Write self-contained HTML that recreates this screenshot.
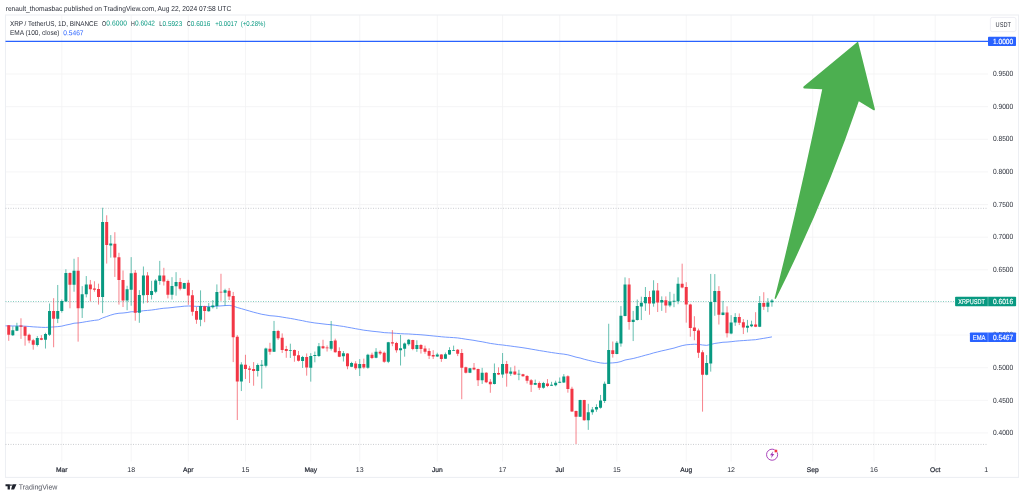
<!DOCTYPE html>
<html><head><meta charset="utf-8"><title>XRP / TetherUS chart</title>
<style>html,body{margin:0;padding:0;background:#fff;width:1024px;height:497px;overflow:hidden}</style></head>
<body>
<svg width="1024" height="497" viewBox="0 0 1024 497" style="position:absolute;left:0;top:0;display:block">
<rect x="0" y="0" width="1024" height="497" fill="#fff"/>
<path d="M61.80 15.0V461.5M131.18 15.0V461.5M188.32 15.0V461.5M245.46 15.0V461.5M310.76 15.0V461.5M359.73 15.0V461.5M437.28 15.0V461.5M502.58 15.0V461.5M559.72 15.0V461.5M616.85 15.0V461.5M686.24 15.0V461.5M731.13 15.0V461.5M812.76 15.0V461.5M873.98 15.0V461.5M935.20 15.0V461.5M5.5 432.96H988.0M5.5 400.33H988.0M5.5 367.70H988.0M5.5 335.07H988.0M5.5 302.44H988.0M5.5 269.81H988.0M5.5 237.18H988.0M5.5 204.55H988.0M5.5 171.92H988.0M5.5 139.29H988.0M5.5 106.66H988.0M5.5 74.03H988.0" stroke="#f2f3f4" stroke-width="0.8" fill="none"/>
<rect x="5.5" y="15.0" width="1013.0" height="462.4" fill="none" stroke="#edeff3" stroke-width="1.1"/>
<path d="M5.5 208.3H988.0M5.5 444.4H988.0" stroke="#9598a1" stroke-width="0.5" stroke-dasharray="1 1.5" fill="none"/>
<path d="M5.5 301.5H955" stroke="#089981" stroke-width="0.55" stroke-dasharray="1 1.5" fill="none" opacity="0.9"/>
<path d="M5.5 41.4H988.0" stroke="#2962ff" stroke-width="1.1" fill="none"/>
<path d="M5.5 325.85L8.74 325.90L12.82 325.99L16.90 326.00L20.98 326.01L25.07 326.20L29.15 326.48L33.23 326.85L37.31 327.07L41.39 327.32L45.47 327.45L49.55 327.13L53.63 326.96L57.72 326.65L61.80 326.14L65.88 325.09L69.96 324.29L74.04 323.23L78.12 322.94L82.20 322.37L86.28 321.62L90.37 320.98L94.45 320.36L98.53 319.89L102.61 317.96L106.69 316.51L110.77 315.07L114.85 313.93L118.94 313.26L123.02 313.00L127.10 312.54L131.18 311.76L135.26 311.78L139.34 311.44L143.42 310.73L147.50 310.42L151.59 310.03L155.67 309.45L159.75 308.78L163.83 308.24L167.91 307.97L171.99 307.54L176.07 307.03L180.15 306.67L184.24 306.20L188.32 305.99L192.40 306.11L196.48 306.38L200.56 306.37L204.64 306.46L208.72 306.47L212.81 306.45L216.89 306.16L220.97 305.89L225.05 305.58L229.13 305.40L233.21 306.03L237.29 307.52L241.37 308.65L245.46 309.85L249.54 311.04L253.62 312.22L257.70 313.26L261.78 314.28L265.86 314.96L269.94 315.69L274.02 315.99L278.11 316.43L282.19 317.10L286.27 317.77L290.35 318.41L294.43 319.15L298.51 319.97L302.59 320.70L306.67 321.63L310.76 322.31L314.84 322.96L318.92 323.42L323.00 323.91L327.08 324.40L331.16 324.72L335.24 325.27L339.33 325.89L343.41 326.43L347.49 327.22L351.57 327.93L355.65 328.73L359.73 329.43L363.81 330.18L367.89 330.67L371.98 331.21L376.06 331.62L380.14 332.05L384.22 332.64L388.30 332.83L392.38 333.04L396.46 333.38L400.54 333.67L404.63 333.87L408.71 333.98L412.79 334.28L416.87 334.50L420.95 334.78L425.03 335.12L429.11 335.53L433.20 335.95L437.28 336.32L441.36 336.77L445.44 337.11L449.52 337.37L453.60 337.62L457.68 337.94L461.76 338.53L465.85 339.20L469.93 339.78L474.01 340.37L478.09 341.15L482.17 341.78L486.25 342.58L490.33 343.41L494.41 343.99L498.50 344.60L502.58 344.98L506.66 345.55L510.74 346.06L514.82 346.63L518.90 347.17L522.98 347.74L527.07 348.39L531.15 349.11L535.23 349.79L539.31 350.54L543.39 351.18L547.47 351.87L551.55 352.52L555.63 353.12L559.72 353.69L563.80 354.14L567.88 354.83L571.96 355.95L576.04 357.15L580.12 358.00L584.20 359.23L588.28 360.28L592.37 361.26L596.45 362.16L600.53 362.92L604.61 363.33L608.69 363.07L612.77 362.89L616.85 362.49L620.93 361.56L625.02 360.03L629.10 359.28L633.18 358.50L637.26 357.46L641.34 356.38L645.42 355.20L649.50 354.18L653.59 352.92L657.67 351.92L661.75 350.89L665.83 349.99L669.91 349.03L673.99 348.08L678.07 346.80L682.15 345.63L686.24 344.82L690.32 344.48L694.40 344.22L698.48 344.39L702.56 344.99L706.64 345.35L710.72 344.49L714.80 343.43L718.89 342.86L722.97 342.26L727.05 342.08L731.13 341.69L735.21 341.20L739.29 340.83L743.37 340.57L747.46 340.28L751.54 339.96L755.62 339.70L759.70 338.97L763.78 338.33L767.86 337.62L771.94 336.89" stroke="#5b86ff" stroke-width="0.85" fill="none" stroke-linejoin="round"/>
<path d="M12.82 326.34V336.00M16.90 322.80V331.17M37.31 336.00V346.46M45.47 332.78V348.55M49.55 303.48V336.00M57.72 284.97V323.12M61.80 299.46V312.66M65.88 269.22V301.71M74.04 258.75V291.73M82.20 286.10V317.97M86.28 276.05V297.36M102.61 207.73V313.14M110.77 235.09V257.63M127.10 285.77V310.24M131.18 257.14V305.73M139.34 290.12V322.80M143.42 266.51V303.52M151.59 280.82V299.50M155.67 278.97V293.22M159.75 260.88V284.73M171.99 277.16V299.54M176.07 272.17V295.67M184.24 282.80V289.07M200.56 290.36V326.22M208.72 303.06V311.73M212.81 300.00V308.51M216.89 284.41V309.09M225.05 288.75V305.71M241.37 362.25V391.05M257.70 363.46V376.56M261.78 360.00V388.63M265.86 347.63V367.48M274.02 320.91V351.97M290.35 343.70V357.95M302.59 355.88V367.95M310.76 353.14V381.63M314.84 351.53V362.31M318.92 343.00V357.00M331.16 320.95V350.56M343.41 351.05V361.51M351.57 361.83V367.14M359.73 359.09V376.00M367.89 353.78V368.75M376.06 348.15V358.29M388.30 341.87V363.12M400.54 334.95V365.53M404.63 342.52V356.68M408.71 338.97V345.73M416.87 340.26V351.85M437.28 352.76V356.94M445.44 352.54V358.97M449.52 347.22V354.95M453.60 345.61V350.93M469.93 367.83V373.14M482.17 367.83V383.92M494.41 363.48V384.41M502.58 353.02V377.81M510.74 367.34V375.88M518.90 369.76V380.22M535.23 379.58V385.05M543.39 381.83V388.75M551.55 381.83V386.02M555.63 380.70V386.34M559.72 377.48V383.12M563.80 374.14V383.00M580.12 399.78V417.00M588.28 403.80V429.88M592.37 407.02V414.75M596.45 404.29V411.85M600.53 394.95V408.63M604.61 381.59V403.00M608.69 323.77V384.00M616.85 341.05V354.25M620.93 306.07V346.68M625.02 277.36V316.32M633.18 310.90V341.05M637.26 299.55V320.55M641.34 296.68V320.07M645.42 287.02V310.90M653.59 280.26V306.71M661.75 296.36V310.90M669.91 291.85V307.19M673.99 293.78V307.19M678.07 277.36V304.22M706.64 355.05V375.33M710.72 273.92V371.63M714.80 274.08V315.77M722.97 300.89V315.35M731.13 315.18V334.26M735.21 313.15V325.86M747.46 319.90V332.45M751.54 320.70V327.14M759.70 296.08V327.14M767.86 298.17V312.17M771.94 298.97V306.70" stroke="#089981" stroke-width="0.62" fill="none"/>
<path d="M8.74 325.21V340.82M20.98 318.29V338.89M25.07 326.02V345.65M29.15 333.58V343.24M33.23 338.89V349.68M41.39 335.19V340.18M53.63 298.17V347.26M69.96 272.43V308.31M78.12 257.14V341.63M90.37 279.98V301.39M94.45 281.27V291.73M98.53 283.68V304.61M106.69 215.29V263.58M114.85 232.19V276.94M118.94 252.80V304.61M123.02 270.50V307.02M135.26 270.02V320.70M147.50 272.14V302.72M163.83 267.83V285.53M167.91 279.58V298.41M180.15 277.97V290.36M188.32 279.90V304.85M192.40 290.04V315.75M196.48 306.90V323.80M204.64 305.77V322.19M220.97 273.78V300.89M229.13 287.95V300.00M233.21 291.95V362.11M237.29 335.07V420.02M245.46 354.77V378.97M249.54 365.88V383.00M253.62 362.09V385.73M269.94 342.80V354.71M278.11 329.92V339.90M282.19 333.40V352.96M286.27 345.88V357.79M294.43 349.50V361.73M298.51 350.95V361.51M306.67 353.46V375.67M323.00 339.78V348.95M327.08 345.41V351.53M335.24 338.65V352.66M339.33 347.34V357.16M347.49 353.14V369.24M355.65 361.19V369.88M363.81 358.61V368.75M371.98 352.66V359.09M380.14 350.24V355.07M384.22 351.53V362.80M392.38 330.12V346.22M396.46 341.87V352.66M412.79 339.78V350.24M420.95 344.12V353.56M425.03 345.67V353.80M429.11 348.25V359.03M433.20 350.18V359.03M441.36 354.14V361.87M457.68 348.99V356.08M461.76 348.99V399.22M465.85 366.70V373.46M474.01 363.00V370.24M478.09 368.63V386.02M486.25 372.17V383.12M490.33 379.09V392.78M498.50 367.34V375.07M506.66 360.91V386.66M514.82 365.73V375.07M522.98 373.78V376.68M527.07 375.07V383.44M531.15 379.09V391.97M539.31 381.51V389.88M547.47 379.09V387.14M567.88 375.27V392.66M571.96 386.78V411.85M576.04 410.56V444.04M584.20 399.78V420.70M612.77 341.53V357.63M629.10 278.17V329.73M649.50 291.05V314.76M657.67 283.00V312.02M665.83 296.36V312.83M682.15 263.68V288.31M686.24 282.19V322.65M690.32 303.73V336.70M694.40 316.21V340.24M698.48 328.60V357.95M702.56 350.22V411.65M718.89 286.16V324.52M727.05 306.33V337.47M739.29 313.46V325.05M743.37 319.09V334.06M755.62 312.17V327.14M763.78 292.21V309.92" stroke="#f23645" stroke-width="0.62" fill="none"/>
<path d="M11.32 330.36h3v4.83h-3zM15.40 326.34h3v4.51h-3zM35.81 337.93h3v7.08h-3zM43.97 334.06h3v5.79h-3zM48.05 311.05h3v23.66h-3zM56.22 311.05h3v7.73h-3zM60.30 301.07h3v9.98h-3zM64.38 273.07h3v28.32h-3zM72.54 270.81h3v13.99h-3zM80.70 294.14h3v14.16h-3zM84.78 284.49h3v9.66h-3zM101.11 222.05h3v74.83h-3zM109.27 243.46h3v1.93h-3zM125.60 289.32h3v11.27h-3zM129.68 273.24h3v16.56h-3zM137.84 294.95h3v17.71h-3zM141.92 275.51h3v19.73h-3zM150.09 291.05h3v3.86h-3zM154.17 280.58h3v11.11h-3zM158.25 275.44h3v5.58h-3zM170.49 286.02h3v8.85h-3zM174.57 281.99h3v4.35h-3zM182.74 283.12h3v5.63h-3zM199.06 306.04h3v13.74h-3zM207.22 306.92h3v4.33h-3zM211.31 305.47h3v1.77h-3zM215.39 291.95h3v14.08h-3zM223.55 290.36h3v2.47h-3zM239.87 364.59h3v16.80h-3zM256.20 364.91h3v6.02h-3zM260.28 364.75h3v1.03h-3zM264.36 348.43h3v17.28h-3zM272.52 331.05h3v20.60h-3zM288.85 349.98h3v0.80h-3zM301.09 357.00h3v4.02h-3zM309.26 355.88h3v11.75h-3zM313.34 355.07h3v0.97h-3zM317.42 346.22h3v9.66h-3zM329.66 340.91h3v7.73h-3zM341.91 353.14h3v3.22h-3zM350.07 363.12h3v3.54h-3zM358.23 363.92h3v4.35h-3zM366.39 354.75h3v12.88h-3zM374.56 351.85h3v5.96h-3zM386.80 342.19h3v19.64h-3zM399.04 348.15h3v2.09h-3zM403.13 343.48h3v5.15h-3zM407.21 339.78h3v4.35h-3zM415.37 345.09h3v4.02h-3zM435.78 354.53h3v2.09h-3zM443.94 354.14h3v4.51h-3zM448.02 350.12h3v4.35h-3zM452.10 350.12h3v0.60h-3zM468.43 368.15h3v4.51h-3zM480.67 372.66h3v7.57h-3zM492.91 372.98h3v10.95h-3zM501.08 364.12h3v10.46h-3zM509.24 371.53h3v2.25h-3zM517.40 373.78h3v0.80h-3zM533.73 383.12h3v1.61h-3zM541.89 383.12h3v4.51h-3zM550.05 384.73h3v0.97h-3zM554.13 382.80h3v2.41h-3zM558.22 381.83h3v0.97h-3zM562.30 376.40h3v6.04h-3zM578.62 400.10h3v16.58h-3zM586.78 412.17h3v8.05h-3zM590.87 409.44h3v2.74h-3zM594.95 407.02h3v2.41h-3zM599.03 400.58h3v7.24h-3zM603.11 383.68h3v17.22h-3zM607.19 349.90h3v34.10h-3zM615.35 342.66h3v11.27h-3zM619.43 315.64h3v27.82h-3zM623.52 284.61h3v31.44h-3zM631.68 319.67h3v2.33h-3zM635.76 306.07h3v14.00h-3zM639.84 302.85h3v3.70h-3zM643.92 297.00h3v6.17h-3zM652.09 290.56h3v13.01h-3zM660.25 299.90h3v2.63h-3zM668.41 301.40h3v4.19h-3zM672.49 300.70h3v1.02h-3zM676.57 283.80h3v17.43h-3zM705.14 363.10h3v11.75h-3zM709.22 301.88h3v61.70h-3zM713.30 290.99h3v10.89h-3zM721.47 312.45h3v2.47h-3zM729.63 322.43h3v11.10h-3zM733.71 316.90h3v5.63h-3zM745.96 325.86h3v1.77h-3zM750.04 324.41h3v1.93h-3zM758.20 303.00h3v23.66h-3zM766.36 302.52h3v4.19h-3zM770.44 300.58h3v1.61h-3z" fill="#089981"/>
<path d="M7.24 325.21h3v9.66h-3zM19.48 325.53h3v1.13h-3zM23.57 326.66h3v9.01h-3zM27.65 334.87h3v5.63h-3zM31.73 340.18h3v4.67h-3zM39.89 338.25h3v1.61h-3zM52.13 311.05h3v7.73h-3zM68.46 273.07h3v11.74h-3zM76.62 270.81h3v37.49h-3zM88.87 284.49h3v4.83h-3zM92.95 288.51h3v1.13h-3zM97.03 288.99h3v7.89h-3zM105.19 222.05h3v23.02h-3zM113.35 243.78h3v13.84h-3zM117.44 257.14h3v22.84h-3zM121.52 279.98h3v20.60h-3zM133.76 272.83h3v39.83h-3zM146.00 275.51h3v19.40h-3zM162.33 275.55h3v5.96h-3zM166.41 281.03h3v13.84h-3zM178.65 281.99h3v6.76h-3zM186.82 282.80h3v12.72h-3zM190.90 295.19h3v16.54h-3zM194.98 310.93h3v8.85h-3zM203.14 306.28h3v4.65h-3zM219.47 291.65h3v0.80h-3zM227.63 290.85h3v5.61h-3zM231.71 295.90h3v41.27h-3zM235.79 336.68h3v44.71h-3zM243.96 364.83h3v4.16h-3zM248.04 368.53h3v1.27h-3zM252.12 368.93h3v1.99h-3zM268.44 348.75h3v2.90h-3zM276.61 331.05h3v7.24h-3zM280.69 337.83h3v12.07h-3zM284.77 348.93h3v2.17h-3zM292.93 349.98h3v5.79h-3zM297.01 355.13h3v5.63h-3zM305.17 357.00h3v10.62h-3zM321.50 346.22h3v2.09h-3zM325.58 347.51h3v0.80h-3zM333.74 340.58h3v11.59h-3zM337.83 351.05h3v5.63h-3zM345.99 353.46h3v12.88h-3zM354.15 363.44h3v4.83h-3zM362.31 363.92h3v3.70h-3zM370.48 354.75h3v3.22h-3zM378.64 351.85h3v1.61h-3zM382.72 352.66h3v9.18h-3zM390.88 342.19h3v1.29h-3zM394.96 343.00h3v7.24h-3zM411.29 340.10h3v9.01h-3zM419.45 345.03h3v3.94h-3zM423.53 348.57h3v3.22h-3zM427.61 350.99h3v4.83h-3zM431.70 355.01h3v1.61h-3zM439.86 354.47h3v4.51h-3zM456.18 349.80h3v3.86h-3zM460.26 353.02h3v14.81h-3zM464.35 367.34h3v5.31h-3zM472.51 367.83h3v1.61h-3zM476.59 369.11h3v11.11h-3zM484.75 372.66h3v9.66h-3zM488.83 381.83h3v2.41h-3zM497.00 372.98h3v1.61h-3zM505.16 364.12h3v9.34h-3zM513.32 371.53h3v3.06h-3zM521.48 374.27h3v1.93h-3zM525.57 375.88h3v4.83h-3zM529.65 380.22h3v4.51h-3zM537.81 383.12h3v4.51h-3zM545.97 383.44h3v2.58h-3zM566.38 376.24h3v12.64h-3zM570.46 388.63h3v22.90h-3zM574.54 411.05h3v5.63h-3zM582.70 400.10h3v20.12h-3zM611.27 350.22h3v3.70h-3zM627.60 284.61h3v37.39h-3zM648.00 297.00h3v6.57h-3zM656.17 290.56h3v11.96h-3zM664.33 300.22h3v5.36h-3zM680.65 283.80h3v3.70h-3zM684.74 287.02h3v17.60h-3zM688.82 304.62h3v23.26h-3zM692.90 327.47h3v3.59h-3zM696.98 330.58h3v22.21h-3zM701.06 352.31h3v22.54h-3zM717.39 290.99h3v23.77h-3zM725.55 312.45h3v20.68h-3zM737.79 317.00h3v5.63h-3zM741.87 322.31h3v5.31h-3zM754.12 324.41h3v2.25h-3zM762.28 303.00h3v3.70h-3z" fill="#f23645"/>
<path d="M858.0 41.6 L803.6 86.6 Q802.6 88.4 804.6 88.6 L822.2 89.3 Q799.5 200 774.6 298.2 Q774.9 299.4 776 298.6 Q826 198 858.8 101.2 L873.2 110.0 Q875.2 110.8 874.8 108.8 Z" fill="#4caf50"/>
<text transform="rotate(0.03 993 435.16)" x="993" y="435.16" font-family="Liberation Sans, Arial, sans-serif" font-size="7.4" fill="#2a2e39" textLength="20.2" lengthAdjust="spacingAndGlyphs">0.4000</text>
<text transform="rotate(0.03 993 402.53)" x="993" y="402.53" font-family="Liberation Sans, Arial, sans-serif" font-size="7.4" fill="#2a2e39" textLength="20.2" lengthAdjust="spacingAndGlyphs">0.4500</text>
<text transform="rotate(0.03 993 369.90)" x="993" y="369.90" font-family="Liberation Sans, Arial, sans-serif" font-size="7.4" fill="#2a2e39" textLength="20.2" lengthAdjust="spacingAndGlyphs">0.5000</text>
<text transform="rotate(0.03 993 337.27)" x="993" y="337.27" font-family="Liberation Sans, Arial, sans-serif" font-size="7.4" fill="#2a2e39" textLength="20.2" lengthAdjust="spacingAndGlyphs">0.5500</text>
<text transform="rotate(0.03 993 304.64)" x="993" y="304.64" font-family="Liberation Sans, Arial, sans-serif" font-size="7.4" fill="#2a2e39" textLength="20.2" lengthAdjust="spacingAndGlyphs">0.6000</text>
<text transform="rotate(0.03 993 272.01)" x="993" y="272.01" font-family="Liberation Sans, Arial, sans-serif" font-size="7.4" fill="#2a2e39" textLength="20.2" lengthAdjust="spacingAndGlyphs">0.6500</text>
<text transform="rotate(0.03 993 239.38)" x="993" y="239.38" font-family="Liberation Sans, Arial, sans-serif" font-size="7.4" fill="#2a2e39" textLength="20.2" lengthAdjust="spacingAndGlyphs">0.7000</text>
<text transform="rotate(0.03 993 206.75)" x="993" y="206.75" font-family="Liberation Sans, Arial, sans-serif" font-size="7.4" fill="#2a2e39" textLength="20.2" lengthAdjust="spacingAndGlyphs">0.7500</text>
<text transform="rotate(0.03 993 174.12)" x="993" y="174.12" font-family="Liberation Sans, Arial, sans-serif" font-size="7.4" fill="#2a2e39" textLength="20.2" lengthAdjust="spacingAndGlyphs">0.8000</text>
<text transform="rotate(0.03 993 141.49)" x="993" y="141.49" font-family="Liberation Sans, Arial, sans-serif" font-size="7.4" fill="#2a2e39" textLength="20.2" lengthAdjust="spacingAndGlyphs">0.8500</text>
<text transform="rotate(0.03 993 108.86)" x="993" y="108.86" font-family="Liberation Sans, Arial, sans-serif" font-size="7.4" fill="#2a2e39" textLength="20.2" lengthAdjust="spacingAndGlyphs">0.9000</text>
<text transform="rotate(0.03 993 76.23)" x="993" y="76.23" font-family="Liberation Sans, Arial, sans-serif" font-size="7.4" fill="#2a2e39" textLength="20.2" lengthAdjust="spacingAndGlyphs">0.9500</text>
<text transform="rotate(0.03 61.80 471.95)" x="61.80" y="471.95" font-family="Liberation Sans, Arial, sans-serif" font-size="6.7" stroke="#2a2e39" stroke-width="0.22" fill="#2a2e39" text-anchor="middle">Mar</text>
<text transform="rotate(0.03 131.18 471.95)" x="131.18" y="471.95" font-family="Liberation Sans, Arial, sans-serif" font-size="7" fill="#2a2e39" text-anchor="middle">18</text>
<text transform="rotate(0.03 188.32 471.95)" x="188.32" y="471.95" font-family="Liberation Sans, Arial, sans-serif" font-size="6.7" stroke="#2a2e39" stroke-width="0.22" fill="#2a2e39" text-anchor="middle">Apr</text>
<text transform="rotate(0.03 245.46 471.95)" x="245.46" y="471.95" font-family="Liberation Sans, Arial, sans-serif" font-size="7" fill="#2a2e39" text-anchor="middle">15</text>
<text transform="rotate(0.03 310.76 471.95)" x="310.76" y="471.95" font-family="Liberation Sans, Arial, sans-serif" font-size="6.7" stroke="#2a2e39" stroke-width="0.22" fill="#2a2e39" text-anchor="middle">May</text>
<text transform="rotate(0.03 359.73 471.95)" x="359.73" y="471.95" font-family="Liberation Sans, Arial, sans-serif" font-size="7" fill="#2a2e39" text-anchor="middle">13</text>
<text transform="rotate(0.03 437.28 471.95)" x="437.28" y="471.95" font-family="Liberation Sans, Arial, sans-serif" font-size="6.7" stroke="#2a2e39" stroke-width="0.22" fill="#2a2e39" text-anchor="middle">Jun</text>
<text transform="rotate(0.03 502.58 471.95)" x="502.58" y="471.95" font-family="Liberation Sans, Arial, sans-serif" font-size="7" fill="#2a2e39" text-anchor="middle">17</text>
<text transform="rotate(0.03 559.72 471.95)" x="559.72" y="471.95" font-family="Liberation Sans, Arial, sans-serif" font-size="6.7" stroke="#2a2e39" stroke-width="0.22" fill="#2a2e39" text-anchor="middle">Jul</text>
<text transform="rotate(0.03 616.85 471.95)" x="616.85" y="471.95" font-family="Liberation Sans, Arial, sans-serif" font-size="7" fill="#2a2e39" text-anchor="middle">15</text>
<text transform="rotate(0.03 686.24 471.95)" x="686.24" y="471.95" font-family="Liberation Sans, Arial, sans-serif" font-size="6.7" stroke="#2a2e39" stroke-width="0.22" fill="#2a2e39" text-anchor="middle">Aug</text>
<text transform="rotate(0.03 731.13 471.95)" x="731.13" y="471.95" font-family="Liberation Sans, Arial, sans-serif" font-size="7" fill="#2a2e39" text-anchor="middle">12</text>
<text transform="rotate(0.03 812.76 471.95)" x="812.76" y="471.95" font-family="Liberation Sans, Arial, sans-serif" font-size="6.7" stroke="#2a2e39" stroke-width="0.22" fill="#2a2e39" text-anchor="middle">Sep</text>
<text transform="rotate(0.03 873.98 471.95)" x="873.98" y="471.95" font-family="Liberation Sans, Arial, sans-serif" font-size="7" fill="#2a2e39" text-anchor="middle">16</text>
<text transform="rotate(0.03 935.20 471.95)" x="935.20" y="471.95" font-family="Liberation Sans, Arial, sans-serif" font-size="6.7" stroke="#2a2e39" stroke-width="0.22" fill="#2a2e39" text-anchor="middle">Oct</text>
<clipPath id="cp"><rect x="0" y="460" width="988" height="17"/></clipPath>
<text transform="rotate(0.03 988.25 471.95)" x="988.25" y="471.95" font-family="Liberation Sans, Arial, sans-serif" font-size="7" fill="#2a2e39" text-anchor="middle" clip-path="url(#cp)">14</text>
<rect x="990.4" y="17.4" width="25.6" height="14.2" rx="2" fill="#fff" stroke="#e6e8ef" stroke-width="0.7"/>
<text transform="rotate(0.03 995.6 27.1)" x="995.6" y="27.1" font-family="Liberation Sans, Arial, sans-serif" font-size="7" fill="#2a2e39" textLength="15.3" lengthAdjust="spacingAndGlyphs">USDT</text>
<rect x="988" y="36.8" width="28" height="9.2" rx="0.8" fill="#2962ff"/>
<text transform="rotate(0.03 993 43.9)" x="993" y="43.9" font-family="Liberation Sans, Arial, sans-serif" font-size="7.4" fill="#fff" stroke="#fff" stroke-width="0.15" textLength="20.2" lengthAdjust="spacingAndGlyphs">1.0000</text>
<rect x="955.1" y="296.7" width="61" height="9.5" rx="0.8" fill="#089981"/>
<path d="M988 296.7V306.2" stroke="#fff" stroke-width="0.5" opacity="0.6"/>
<text transform="rotate(0.03 958.3 303.9)" x="958.3" y="303.9" font-family="Liberation Sans, Arial, sans-serif" font-size="7" fill="#fff" stroke="#fff" stroke-width="0.15" textLength="26.6" lengthAdjust="spacingAndGlyphs">XRPUSDT</text>
<text transform="rotate(0.03 993 303.9)" x="993" y="303.9" font-family="Liberation Sans, Arial, sans-serif" font-size="7.4" fill="#fff" stroke="#fff" stroke-width="0.15" textLength="20.2" lengthAdjust="spacingAndGlyphs">0.6016</text>
<rect x="969.9" y="332.4" width="46.2" height="9.6" rx="0.8" fill="#2962ff"/>
<path d="M988 332.4V342" stroke="#fff" stroke-width="0.5" opacity="0.6"/>
<text transform="rotate(0.03 972.8 339.7)" x="972.8" y="339.7" font-family="Liberation Sans, Arial, sans-serif" font-size="7" fill="#fff" stroke="#fff" stroke-width="0.15" textLength="12.6" lengthAdjust="spacingAndGlyphs">EMA</text>
<text transform="rotate(0.03 993 339.7)" x="993" y="339.7" font-family="Liberation Sans, Arial, sans-serif" font-size="7.4" fill="#fff" stroke="#fff" stroke-width="0.15" textLength="20.2" lengthAdjust="spacingAndGlyphs">0.5467</text>
<circle cx="772.1" cy="454.7" r="5.55" fill="#fff" stroke="#ab47bc" stroke-width="1"/>
<path d="M773.2 451.2 L770.0 455.2 L771.9 455.2 L771.0 458.2 L774.3 454.1 L772.4 454.1 Z" fill="#a23bb6"/>
<circle cx="775.9" cy="451.0" r="1.75" fill="#f23645" stroke="#fff" stroke-width="0.5"/>
<text transform="rotate(0.03 5.7 10.8)" x="5.7" y="10.8" font-family="Liberation Sans, Arial, sans-serif" font-size="7.2" fill="#2a2e39" textLength="225.5" lengthAdjust="spacingAndGlyphs">renault_thomasbac published on TradingView.com, Aug 22, 2024 07:58 UTC</text>
<text transform="rotate(0.03 9.9 25.6)" x="9.9" y="25.6" font-family="Liberation Sans, Arial, sans-serif" font-size="7" fill="#2a2e39" textLength="88.00" lengthAdjust="spacingAndGlyphs">XRP / TetherUS, 1D, BINANCE</text>
<text transform="rotate(0.03 102.0 25.6)" x="102.0" y="25.6" font-family="Liberation Sans, Arial, sans-serif" font-size="7" fill="#2a2e39" textLength="4.10" lengthAdjust="spacingAndGlyphs">O</text>
<text transform="rotate(0.03 106.3 25.6)" x="106.3" y="25.6" font-family="Liberation Sans, Arial, sans-serif" font-size="7" fill="#089981" textLength="20.60" lengthAdjust="spacingAndGlyphs">0.6000</text>
<text transform="rotate(0.03 131.0 25.6)" x="131.0" y="25.6" font-family="Liberation Sans, Arial, sans-serif" font-size="7" fill="#2a2e39" textLength="3.80" lengthAdjust="spacingAndGlyphs">H</text>
<text transform="rotate(0.03 135.0 25.6)" x="135.0" y="25.6" font-family="Liberation Sans, Arial, sans-serif" font-size="7" fill="#089981" textLength="20.00" lengthAdjust="spacingAndGlyphs">0.6042</text>
<text transform="rotate(0.03 159.2 25.6)" x="159.2" y="25.6" font-family="Liberation Sans, Arial, sans-serif" font-size="7" fill="#2a2e39" textLength="3.10" lengthAdjust="spacingAndGlyphs">L</text>
<text transform="rotate(0.03 162.5 25.6)" x="162.5" y="25.6" font-family="Liberation Sans, Arial, sans-serif" font-size="7" fill="#089981" textLength="19.80" lengthAdjust="spacingAndGlyphs">0.5923</text>
<text transform="rotate(0.03 187.0 25.6)" x="187.0" y="25.6" font-family="Liberation Sans, Arial, sans-serif" font-size="7" fill="#2a2e39" textLength="3.60" lengthAdjust="spacingAndGlyphs">C</text>
<text transform="rotate(0.03 190.8 25.6)" x="190.8" y="25.6" font-family="Liberation Sans, Arial, sans-serif" font-size="7" fill="#089981" textLength="19.60" lengthAdjust="spacingAndGlyphs">0.6016</text>
<text transform="rotate(0.03 215.2 25.6)" x="215.2" y="25.6" font-family="Liberation Sans, Arial, sans-serif" font-size="7" fill="#089981" textLength="22.10" lengthAdjust="spacingAndGlyphs">+0.0017</text>
<text transform="rotate(0.03 240.8 25.6)" x="240.8" y="25.6" font-family="Liberation Sans, Arial, sans-serif" font-size="7" fill="#089981" textLength="24.60" lengthAdjust="spacingAndGlyphs">(+0.28%)</text>
<text transform="rotate(0.03 9.9 35.3)" x="9.9" y="35.3" font-family="Liberation Sans, Arial, sans-serif" font-size="7" fill="#2a2e39" textLength="49.60" lengthAdjust="spacingAndGlyphs">EMA (100, close)</text>
<text transform="rotate(0.03 63.3 35.3)" x="63.3" y="35.3" font-family="Liberation Sans, Arial, sans-serif" font-size="7" fill="#2962ff" textLength="20.20" lengthAdjust="spacingAndGlyphs">0.5467</text>
<path d="M5.5 484.2H9.9V489.4H7.6V486.2H5.5Z M12.55 484.2H16.5L14.1 489.4H11.1Z" fill="#1e222d"/>
<circle cx="10.95" cy="485.15" r="0.8" fill="#1e222d"/>
<text transform="rotate(0.03 18.7 489.4)" x="18.7" y="489.4" font-family="Liberation Sans, Arial, sans-serif" font-size="7.4" fill="#50535e" textLength="38.7" lengthAdjust="spacingAndGlyphs">TradingView</text>
</svg>
</body></html>
